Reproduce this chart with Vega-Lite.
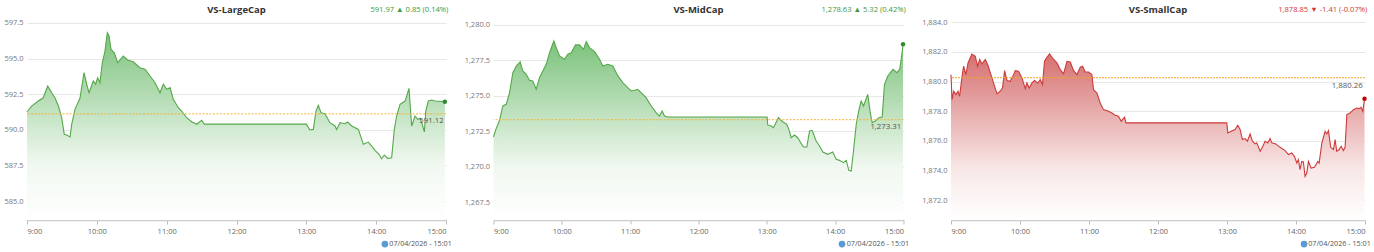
{
  "$schema": "https://vega.github.io/schema/vega-lite/v6.json",
  "autosize": {"type": "pad"},
  "padding": {"left": 3, "top": 4, "right": 0, "bottom": 0},
  "background": "white",
  "bounds": "flush",
  "spacing": 47.5,
  "datasets": {
    "large": [
      {"t":0,"v":591.27},{"t":4,"v":591.67},{"t":9.7,"v":592.02},{"t":14,"v":592.25},{"t":17.8,"v":593.08},{"t":21.2,"v":592.6},{"t":24,"v":592.25},{"t":27,"v":591.67},{"t":29.8,"v":590.85},{"t":32,"v":589.68},{"t":34,"v":589.63},{"t":37,"v":589.5},{"t":38.4,"v":590.39},{"t":41.2,"v":591.44},{"t":45.5,"v":592.21},{"t":49,"v":594.01},{"t":51.3,"v":593.2},{"t":53.3,"v":592.6},{"t":57,"v":593.43},{"t":59,"v":593.2},{"t":60.7,"v":593.66},{"t":62.7,"v":593.31},{"t":64.7,"v":594.71},{"t":67,"v":595.53},{"t":69,"v":596.82},{"t":70.5,"v":596.59},{"t":72.2,"v":595.65},{"t":75,"v":595.41},{"t":77.9,"v":594.71},{"t":82.7,"v":595.18},{"t":87,"v":594.88},{"t":91.3,"v":594.78},{"t":97,"v":594.36},{"t":101.4,"v":594.25},{"t":105.7,"v":593.78},{"t":110,"v":593.31},{"t":114.3,"v":592.6},{"t":117.1,"v":593.2},{"t":120,"v":592.84},{"t":122.9,"v":592.96},{"t":125.7,"v":592.14},{"t":130,"v":591.55},{"t":132.9,"v":591.32},{"t":137.2,"v":590.85},{"t":141.5,"v":590.57},{"t":145.8,"v":590.39},{"t":150.1,"v":590.67},{"t":152.3,"v":590.4},{"t":240,"v":590.4},{"t":243,"v":589.99},{"t":246,"v":590.03},{"t":248.3,"v":591.32},{"t":250.3,"v":591.72},{"t":252.6,"v":591.2},{"t":256,"v":591.13},{"t":260.3,"v":590.5},{"t":264.6,"v":590.27},{"t":266,"v":590.03},{"t":269,"v":590.5},{"t":273.2,"v":590.43},{"t":275.5,"v":590.55},{"t":279,"v":590.27},{"t":284.7,"v":590.03},{"t":289,"v":588.98},{"t":293.2,"v":589.14},{"t":296.1,"v":588.86},{"t":299,"v":588.56},{"t":302.4,"v":588.28},{"t":304.7,"v":587.97},{"t":307,"v":588.23},{"t":309.9,"v":588.0},{"t":313.3,"v":588.04},{"t":315.6,"v":590.03},{"t":317.6,"v":590.97},{"t":320.5,"v":591.79},{"t":324.8,"v":592.02},{"t":326.2,"v":592.37},{"t":328.2,"v":592.91},{"t":330.5,"v":590.27},{"t":333.4,"v":590.97},{"t":335.7,"v":590.74},{"t":337.7,"v":590.81},{"t":339.6,"v":590.39},{"t":341.4,"v":589.85},{"t":342.6,"v":591.32},{"t":344.8,"v":592.02},{"t":347.7,"v":592.09},{"t":350.5,"v":592.02},{"t":359,"v":591.97}
    ],
    "mid": [
      {"t":0,"v":1272.09},{"t":2.1,"v":1272.63},{"t":5.3,"v":1273.27},{"t":8.2,"v":1274.28},{"t":11.2,"v":1274.4},{"t":14.1,"v":1275.22},{"t":17,"v":1276.63},{"t":20,"v":1277.1},{"t":23.4,"v":1277.39},{"t":25.7,"v":1276.75},{"t":28.7,"v":1276.52},{"t":31.6,"v":1276.09},{"t":34.5,"v":1276.05},{"t":37.5,"v":1275.46},{"t":40.4,"v":1276.28},{"t":43.3,"v":1276.75},{"t":46.3,"v":1277.22},{"t":49.2,"v":1278.04},{"t":53,"v":1278.87},{"t":55.1,"v":1278.4},{"t":58,"v":1277.81},{"t":62.3,"v":1277.58},{"t":65.3,"v":1277.93},{"t":68.2,"v":1278.04},{"t":72,"v":1278.59},{"t":75.5,"v":1278.59},{"t":79,"v":1278.28},{"t":81.4,"v":1278.82},{"t":84.3,"v":1278.4},{"t":88.7,"v":1278.12},{"t":93.1,"v":1277.58},{"t":96,"v":1277.1},{"t":100.4,"v":1277.22},{"t":104.8,"v":1277.1},{"t":109.2,"v":1276.4},{"t":113.5,"v":1275.93},{"t":117.9,"v":1275.57},{"t":120.9,"v":1275.34},{"t":123.8,"v":1275.39},{"t":126.7,"v":1275.46},{"t":129.6,"v":1275.22},{"t":134,"v":1274.87},{"t":138.5,"v":1274.28},{"t":142.8,"v":1273.81},{"t":145.7,"v":1273.57},{"t":148.1,"v":1273.93},{"t":150.1,"v":1273.57},{"t":153,"v":1273.5},{"t":240.3,"v":1273.5},{"t":240.8,"v":1272.94},{"t":243.8,"v":1272.87},{"t":245.8,"v":1272.75},{"t":250.2,"v":1273.45},{"t":254,"v":1273.17},{"t":257.5,"v":1272.99},{"t":259.3,"v":1272.63},{"t":261.4,"v":1272.04},{"t":264.3,"v":1272.23},{"t":267.2,"v":1272.04},{"t":270.2,"v":1271.62},{"t":272.2,"v":1271.38},{"t":275.1,"v":1271.38},{"t":277.5,"v":1272.51},{"t":279.8,"v":1272.56},{"t":283.3,"v":1271.81},{"t":286.2,"v":1271.45},{"t":289.2,"v":1271.03},{"t":293.5,"v":1270.87},{"t":297.9,"v":1271.03},{"t":300.9,"v":1270.52},{"t":303.8,"v":1270.44},{"t":307.3,"v":1270.28},{"t":309.7,"v":1270.44},{"t":312,"v":1269.74},{"t":314.1,"v":1269.69},{"t":316.1,"v":1271.1},{"t":318.5,"v":1272.99},{"t":320.7,"v":1273.93},{"t":322.8,"v":1274.63},{"t":324.9,"v":1274.28},{"t":328.6,"v":1275.1},{"t":330.8,"v":1273.81},{"t":332.5,"v":1273.1},{"t":335.4,"v":1273.22},{"t":338.3,"v":1273.45},{"t":341.3,"v":1273.5},{"t":343.3,"v":1275.81},{"t":346.2,"v":1276.4},{"t":350.8,"v":1276.87},{"t":354.3,"v":1276.63},{"t":356.7,"v":1276.89},{"t":358.2,"v":1277.69},{"t":359.6,"v":1278.63}
    ],
    "small": [
      {"t":0,"v":1880.47},{"t":0.9,"v":1878.79},{"t":2.3,"v":1879.35},{"t":4.3,"v":1879.12},{"t":6.1,"v":1879.35},{"t":7.5,"v":1879.01},{"t":9.6,"v":1880.36},{"t":11,"v":1881.04},{"t":13,"v":1880.47},{"t":14.8,"v":1881.26},{"t":18.2,"v":1881.86},{"t":21.1,"v":1881.71},{"t":23.1,"v":1881.04},{"t":24.9,"v":1881.49},{"t":26.9,"v":1881.19},{"t":29.8,"v":1881.49},{"t":32.1,"v":1881.1},{"t":35.6,"v":1880.25},{"t":40,"v":1879.17},{"t":42.8,"v":1879.35},{"t":44.8,"v":1879.57},{"t":46.6,"v":1880.74},{"t":48.7,"v":1880.07},{"t":51.5,"v":1880.02},{"t":54.4,"v":1880.47},{"t":55.9,"v":1880.74},{"t":58.7,"v":1880.7},{"t":61.7,"v":1880.25},{"t":64.6,"v":1879.53},{"t":66,"v":1879.91},{"t":68,"v":1879.57},{"t":70.4,"v":1879.91},{"t":72.6,"v":1880.07},{"t":75.6,"v":1879.91},{"t":77.6,"v":1880.14},{"t":79.6,"v":1879.8},{"t":81.3,"v":1881.37},{"t":83.4,"v":1881.64},{"t":85.7,"v":1881.86},{"t":88.3,"v":1881.59},{"t":92.1,"v":1881.26},{"t":95,"v":1880.81},{"t":97.9,"v":1880.52},{"t":100.8,"v":1881.37},{"t":103.7,"v":1881.32},{"t":106.6,"v":1880.74},{"t":109.5,"v":1880.47},{"t":112.4,"v":1880.97},{"t":114.4,"v":1881.04},{"t":116.7,"v":1880.65},{"t":119.6,"v":1880.65},{"t":122.5,"v":1880.47},{"t":123.9,"v":1879.46},{"t":126.9,"v":1879.23},{"t":129.7,"v":1878.56},{"t":132.6,"v":1878.11},{"t":137,"v":1878.0},{"t":139.9,"v":1877.88},{"t":142.8,"v":1877.73},{"t":145.6,"v":1877.66},{"t":148,"v":1877.33},{"t":150.9,"v":1877.6},{"t":152.1,"v":1877.22},{"t":239.8,"v":1877.22},{"t":240.7,"v":1876.54},{"t":243.6,"v":1876.65},{"t":247,"v":1876.77},{"t":249.4,"v":1877.06},{"t":251.4,"v":1876.77},{"t":253.4,"v":1876.09},{"t":255.7,"v":1876.16},{"t":257.7,"v":1875.98},{"t":260.1,"v":1876.47},{"t":262.1,"v":1875.98},{"t":264.4,"v":1875.8},{"t":265.9,"v":1875.87},{"t":268.8,"v":1875.3},{"t":270.8,"v":1875.57},{"t":273.1,"v":1875.98},{"t":275.5,"v":1875.87},{"t":277.5,"v":1876.16},{"t":279,"v":1875.87},{"t":282.4,"v":1875.8},{"t":286.2,"v":1875.57},{"t":290.5,"v":1875.35},{"t":293.4,"v":1875.08},{"t":296.3,"v":1875.19},{"t":298.6,"v":1874.96},{"t":300.7,"v":1874.51},{"t":302.1,"v":1874.74},{"t":303.5,"v":1874.06},{"t":305,"v":1874.62},{"t":306.4,"v":1874.58},{"t":307.9,"v":1873.61},{"t":309.4,"v":1873.84},{"t":310.8,"v":1874.62},{"t":313.1,"v":1874.17},{"t":316,"v":1874.22},{"t":319,"v":1874.62},{"t":320.1,"v":1874.51},{"t":322.5,"v":1875.87},{"t":325.3,"v":1876.65},{"t":326.8,"v":1876.47},{"t":328.2,"v":1876.7},{"t":330.2,"v":1875.57},{"t":332.6,"v":1875.42},{"t":334,"v":1876.09},{"t":335.4,"v":1875.3},{"t":337.5,"v":1875.42},{"t":339.2,"v":1875.64},{"t":341.2,"v":1875.35},{"t":342.7,"v":1875.57},{"t":344.2,"v":1877.78},{"t":347,"v":1877.88},{"t":349.9,"v":1878.11},{"t":352.9,"v":1878.22},{"t":354.8,"v":1878.18},{"t":356.6,"v":1878.27},{"t":358.1,"v":1878.0},{"t":359.6,"v":1878.85}
    ]
  },
  "hconcat": [
    {
      "width": 419, "height": 201,
      "layer": [
        {
          "data": {"name": "large"},
          "mark": {"type": "area", "color": {"gradient": "linear", "x1": 1, "y1": 1, "x2": 1, "y2": 0, "stops": [{"offset": 0, "color": "#ffffff"}, {"offset": 0.3, "color": "#f0f8f0"}, {"offset": 1, "color": "#7cc27c"}]}},
          "encoding": {
            "x": {"field": "t", "type": "quantitative", "scale": {"domain": [0, 360], "nice": false, "zero": false}, "axis": {"values": [0, 60, 120, 180, 240, 300, 360], "labelExpr": "(9 + floor(datum.value / 60)) + ':00'", "grid": false, "title": null}},
            "y": {"field": "v", "type": "quantitative", "scale": {"domain": [583.67, 597.78], "nice": false, "zero": false}, "axis": {"values": [585, 587.5, 590, 592.5, 595, 597.5], "format": ".1f", "title": null}},
            "y2": {"datum": 583.67}
          }
        },
        {
          "data": {"name": "large"},
          "mark": {"type": "line", "color": "#55a84a", "strokeWidth": 1.1},
          "encoding": {"x": {"field": "t", "type": "quantitative"}, "y": {"field": "v", "type": "quantitative"}}
        },
        {
          "data": {"values": [{"ref": 591.12, "label": "591.12"}]},
          "mark": {"type": "rule", "color": "#f2b43a", "strokeDash": [2, 1.5], "strokeWidth": 1},
          "encoding": {"y": {"field": "ref", "type": "quantitative"}}
        },
        {
          "data": {"values": [{"ref": 591.12, "label": "591.12"}]},
          "mark": {"type": "text", "align": "right", "baseline": "middle", "dy": 7, "fontSize": 7.8, "color": "#555"},
          "encoding": {"x": {"datum": 358}, "y": {"field": "ref", "type": "quantitative"}, "text": {"field": "label"}}
        },
        {
          "data": {"name": "large"},
          "transform": [{"joinaggregate": [{"op": "max", "field": "t", "as": "tmax"}]}, {"filter": "datum.t == datum.tmax"}],
          "mark": {"type": "point", "filled": true, "color": "#2e8b2e", "size": 20, "opacity": 1},
          "encoding": {"x": {"field": "t", "type": "quantitative"}, "y": {"field": "v", "type": "quantitative"}}
        },
        {
          "data": {"values": [{"h": "VS-LargeCap"}]},
          "mark": {"type": "text", "align": "center", "baseline": "middle", "fontSize": 9.5, "fontWeight": "bold", "color": "#333"},
          "encoding": {"x": {"datum": 180}, "y": {"datum": 598.41}, "text": {"field": "h"}}
        },
        {
          "data": {"values": [{"h": "591.97  ▲ 0.85 (0.14%)"}]},
          "mark": {"type": "text", "align": "right", "baseline": "middle", "fontSize": 7.6, "color": "#3d9a3d"},
          "encoding": {"x": {"datum": 362}, "y": {"datum": 598.41}, "text": {"field": "h"}}
        },
        {
          "data": {"values": [{"f": "07/04/2026 - 15:01"}]},
          "mark": {"type": "text", "align": "right", "baseline": "middle", "fontSize": 7.2, "color": "#555"},
          "encoding": {"x": {"datum": 365}, "y": {"datum": 581.98}, "text": {"field": "f"}}
        },
        {
          "data": {"values": [{"f": "globe"}]},
          "mark": {"type": "point", "filled": true, "color": "#5b9bd5", "size": 45, "opacity": 1},
          "encoding": {"x": {"datum": 307.5}, "y": {"datum": 581.98}}
        }
      ]
    },
    {
      "width": 410, "height": 201,
      "layer": [
        {
          "data": {"name": "mid"},
          "mark": {"type": "area", "color": {"gradient": "linear", "x1": 1, "y1": 1, "x2": 1, "y2": 0, "stops": [{"offset": 0, "color": "#ffffff"}, {"offset": 0.3, "color": "#f0f8f0"}, {"offset": 1, "color": "#7cc27c"}]}},
          "encoding": {
            "x": {"field": "t", "type": "quantitative", "scale": {"domain": [0, 360], "nice": false, "zero": false}, "axis": {"values": [0, 60, 120, 180, 240, 300, 360], "labelExpr": "(9 + floor(datum.value / 60)) + ':00'", "grid": false, "title": null}},
            "y": {"field": "v", "type": "quantitative", "scale": {"domain": [1266.23, 1280.42], "nice": false, "zero": false}, "axis": {"values": [1267.5, 1270, 1272.5, 1275, 1277.5, 1280], "format": ",.1f", "title": null}},
            "y2": {"datum": 1266.23}
          }
        },
        {
          "data": {"name": "mid"},
          "mark": {"type": "line", "color": "#55a84a", "strokeWidth": 1.1},
          "encoding": {"x": {"field": "t", "type": "quantitative"}, "y": {"field": "v", "type": "quantitative"}}
        },
        {
          "data": {"values": [{"ref": 1273.31, "label": "1,273.31"}]},
          "mark": {"type": "rule", "color": "#f2b43a", "strokeDash": [2, 1.5], "strokeWidth": 1},
          "encoding": {"y": {"field": "ref", "type": "quantitative"}}
        },
        {
          "data": {"values": [{"ref": 1273.31, "label": "1,273.31"}]},
          "mark": {"type": "text", "align": "right", "baseline": "middle", "dy": 7, "fontSize": 7.8, "color": "#555"},
          "encoding": {"x": {"datum": 358}, "y": {"field": "ref", "type": "quantitative"}, "text": {"field": "label"}}
        },
        {
          "data": {"name": "mid"},
          "transform": [{"joinaggregate": [{"op": "max", "field": "t", "as": "tmax"}]}, {"filter": "datum.t == datum.tmax"}],
          "mark": {"type": "point", "filled": true, "color": "#2e8b2e", "size": 20, "opacity": 1},
          "encoding": {"x": {"field": "t", "type": "quantitative"}, "y": {"field": "v", "type": "quantitative"}}
        },
        {
          "data": {"values": [{"h": "VS-MidCap"}]},
          "mark": {"type": "text", "align": "center", "baseline": "middle", "fontSize": 9.5, "fontWeight": "bold", "color": "#333"},
          "encoding": {"x": {"datum": 180}, "y": {"datum": 1281.06}, "text": {"field": "h"}}
        },
        {
          "data": {"values": [{"h": "1,278.63  ▲ 5.32 (0.42%)"}]},
          "mark": {"type": "text", "align": "right", "baseline": "middle", "fontSize": 7.6, "color": "#3d9a3d"},
          "encoding": {"x": {"datum": 362}, "y": {"datum": 1281.06}, "text": {"field": "h"}}
        },
        {
          "data": {"values": [{"f": "07/04/2026 - 15:01"}]},
          "mark": {"type": "text", "align": "right", "baseline": "middle", "fontSize": 7.2, "color": "#555"},
          "encoding": {"x": {"datum": 365}, "y": {"datum": 1264.53}, "text": {"field": "f"}}
        },
        {
          "data": {"values": [{"f": "globe"}]},
          "mark": {"type": "point", "filled": true, "color": "#5b9bd5", "size": 45, "opacity": 1},
          "encoding": {"x": {"datum": 306}, "y": {"datum": 1264.53}}
        }
      ]
    },
    {
      "width": 414, "height": 201,
      "layer": [
        {
          "data": {"name": "small"},
          "mark": {"type": "area", "color": {"gradient": "linear", "x1": 1, "y1": 1, "x2": 1, "y2": 0, "stops": [{"offset": 0, "color": "#ffffff"}, {"offset": 0.3, "color": "#f9e8e8"}, {"offset": 1, "color": "#d67070"}]}},
          "encoding": {
            "x": {"field": "t", "type": "quantitative", "scale": {"domain": [0, 360], "nice": false, "zero": false}, "axis": {"values": [0, 60, 120, 180, 240, 300, 360], "labelExpr": "(9 + floor(datum.value / 60)) + ':00'", "grid": false, "title": null}},
            "y": {"field": "v", "type": "quantitative", "scale": {"domain": [1870.67, 1884.22], "nice": false, "zero": false}, "axis": {"values": [1872, 1874, 1876, 1878, 1880, 1882, 1884], "tickCount": 12, "format": ",.1f", "title": null}},
            "y2": {"datum": 1870.67}
          }
        },
        {
          "data": {"name": "small"},
          "mark": {"type": "line", "color": "#cc3b3b", "strokeWidth": 1.1},
          "encoding": {"x": {"field": "t", "type": "quantitative"}, "y": {"field": "v", "type": "quantitative"}}
        },
        {
          "data": {"values": [{"ref": 1880.26, "label": "1,880.26"}]},
          "mark": {"type": "rule", "color": "#f0a52a", "strokeDash": [2, 1], "strokeWidth": 1},
          "encoding": {"y": {"field": "ref", "type": "quantitative"}}
        },
        {
          "data": {"values": [{"ref": 1880.26, "label": "1,880.26"}]},
          "mark": {"type": "text", "align": "right", "baseline": "middle", "dy": 8, "fontSize": 7.8, "color": "#555"},
          "encoding": {"x": {"datum": 358}, "y": {"field": "ref", "type": "quantitative"}, "text": {"field": "label"}}
        },
        {
          "data": {"name": "small"},
          "transform": [{"joinaggregate": [{"op": "max", "field": "t", "as": "tmax"}]}, {"filter": "datum.t == datum.tmax"}],
          "mark": {"type": "point", "filled": true, "color": "#c00000", "size": 20, "opacity": 1},
          "encoding": {"x": {"field": "t", "type": "quantitative"}, "y": {"field": "v", "type": "quantitative"}}
        },
        {
          "data": {"values": [{"h": "VS-SmallCap"}]},
          "mark": {"type": "text", "align": "center", "baseline": "middle", "fontSize": 9.5, "fontWeight": "bold", "color": "#333"},
          "encoding": {"x": {"datum": 180}, "y": {"datum": 1884.83}, "text": {"field": "h"}}
        },
        {
          "data": {"values": [{"h": "1,878.85  ▼ -1.41 (-0.07%)"}]},
          "mark": {"type": "text", "align": "right", "baseline": "middle", "fontSize": 7.6, "color": "#d0383a"},
          "encoding": {"x": {"datum": 362}, "y": {"datum": 1884.83}, "text": {"field": "h"}}
        },
        {
          "data": {"values": [{"f": "07/04/2026 - 15:01"}]},
          "mark": {"type": "text", "align": "right", "baseline": "middle", "fontSize": 7.2, "color": "#555"},
          "encoding": {"x": {"datum": 365}, "y": {"datum": 1869.05}, "text": {"field": "f"}}
        },
        {
          "data": {"values": [{"f": "globe"}]},
          "mark": {"type": "point", "filled": true, "color": "#5b9bd5", "size": 45, "opacity": 1},
          "encoding": {"x": {"datum": 307}, "y": {"datum": 1869.05}}
        }
      ]
    }
  ],
  "config": {
    "view": {"stroke": null},
    "font": "Open Sans",
    "axisY": {"domain": false, "ticks": false, "grid": true, "gridColor": "#e8e8e8", "gridWidth": 1, "labelFontSize": 7.5, "labelColor": "#777", "labelPadding": 4, "labelOverlap": false, "tickCount": 12},
    "axisX": {"domain": true, "domainColor": "#cccccc", "domainWidth": 1.5, "ticks": true, "tickColor": "#bbbbbb", "tickSize": 4, "labelFontSize": 7.5, "labelColor": "#666", "labelPadding": 3, "labelOverlap": false, "tickCount": 12}
  }
}
